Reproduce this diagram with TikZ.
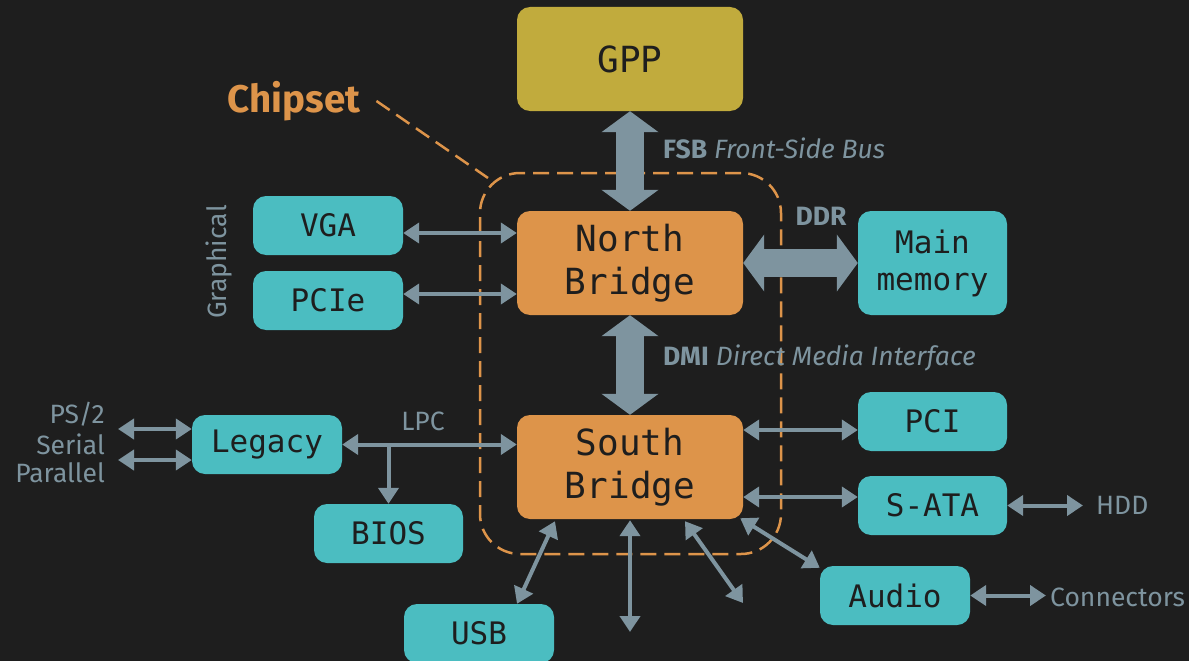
\documentclass[tikz,border=0pt]{standalone}
\usepackage{fontspec}
\setmainfont{Fira Sans}
\newfontfamily\monof{DejaVu Sans Mono}
\usetikzlibrary{arrows.meta,calc}
\definecolor{bg}{HTML}{1E1E1E}
\definecolor{teal}{HTML}{4BBDC1}
\definecolor{orng}{HTML}{DD944A}
\definecolor{olive}{HTML}{C1AB3D}
\definecolor{gry}{HTML}{7E949F}
\definecolor{dk}{HTML}{1E1E1E}
\tikzset{
  box/.style={rounded corners=13pt, inner sep=0pt, align=center, text=dk, font=\monof\fontsize{31}{37}\selectfont},
  smallbox/.style={box, fill=teal, minimum width=150pt, minimum height=59pt},
  bigbox/.style={box, minimum width=226pt, minimum height=104pt, font=\monof\fontsize{36}{43}\selectfont},
  thin/.style={draw=gry, line width=4pt, {Triangle[length=16pt,width=20pt]}-{Triangle[length=16pt,width=20pt]}},
  thinone/.style={draw=gry, line width=4pt, -{Triangle[length=16pt,width=20pt]}},
  fat/.style={draw=gry, line width=28pt, {Triangle[length=21pt,width=56pt]}-{Triangle[length=21pt,width=56pt]}},
  lbl/.style={text=gry, font=\fontsize{26.5}{30}\selectfont, inner sep=0pt},
  chip/.style={draw=orng, line width=2.5pt, dash pattern=on 16pt off 8pt},
}
\begin{document}
\begin{tikzpicture}[x=1pt,y=-1pt]
\fill[bg] (0,0) rectangle (1189,661);
\useasboundingbox (0,0) rectangle (1189,661);

% chipset area
\node[chip, rounded corners=40pt, minimum width=301pt, minimum height=381pt, inner sep=0pt] (cs) at (630.5,363.5) {};
\node[text=orng, font=\bfseries\fontsize{38.5}{44}\selectfont, inner sep=0pt] (chiplbl) at (294,101) {Chipset};
\coordinate (csend) at (488,178);
\draw[chip] ([xshift=16pt]chiplbl.east) -- (csend);

% nodes
\node[bigbox, fill=olive] (gpp) at (630,59) {GPP};
\node[bigbox, fill=orng] (nb) at (630,263) {North\\Bridge};
\node[bigbox, fill=orng] (sb) at (630,467) {South\\Bridge};
\node[smallbox] (vga) at (328,225.5) {VGA};
\node[smallbox] (pcie) at (328,300.5) {PCIe};
\node[box, fill=teal, minimum width=149pt, minimum height=104pt] (mem) at (932.5,263) {Main\\memory};
\node[smallbox, minimum width=149pt] (pci) at (932.5,421.5) {PCI};
\node[smallbox, minimum width=149pt] (sata) at (932.5,505.5) {S-ATA};
\node[smallbox] (legacy) at (267,444.5) {Legacy};
\node[smallbox, minimum width=149pt] (bios) at (388.5,533.5) {BIOS};
\node[smallbox] (usb) at (479,633.5) {USB};
\node[smallbox] (audio) at (895,595.5) {Audio};

% fat buses
\draw[fat] (gpp.south) -- (nb.north);
\draw[fat] (nb.south) -- (sb.north);
\draw[fat] (nb.east) -- (mem.west);
\node[lbl, anchor=west] (fsb) at (663,148) {\textbf{FSB} \textit{Front-Side Bus}};
\node[lbl, anchor=west] (dmi) at (663,358) {\textbf{DMI} \textit{Direct Media Interface}};
\node[lbl] (ddr) at (821,216) {\textbf{DDR}};

% graphical
\draw[thin] ([yshift=30pt]nb.west -| vga.east) -- ([yshift=30pt]nb.west);
\draw[thin] ([yshift=-31pt]nb.west -| pcie.east) -- ([yshift=-31pt]nb.west);
\node[lbl, rotate=90] (graph) at (219,262) {Graphical};

% legacy / LPC
\draw[thin] (legacy.east) -- (legacy.east -| sb.west);
\coordinate (lpcb) at (bios.north |- legacy.east);
\draw[thinone] (lpcb) -- (bios.north);
\node[lbl] (lpc) at (423,421) {LPC};
\coordinate (ps2a) at (118,429);
\coordinate (ps2b) at (118,460);
\draw[thin] (ps2a) -- (ps2a -| legacy.west);
\draw[thin] (ps2b) -- (ps2b -| legacy.west);
\node[lbl, anchor=east] (ps2) at (105,414) {PS/2};
\node[lbl, anchor=east] (ser) at (105,444) {Serial};
\node[lbl, anchor=east] (par) at (105,473) {Parallel};

% south bridge peripherals
\draw[thin] ([yshift=-8.5pt]pci.west -| sb.east) -- ([yshift=-8.5pt]pci.west);
\draw[thin] ([yshift=8.5pt]sata.west -| sb.east) -- ([yshift=8.5pt]sata.west);
\coordinate (hdd) at (1083,505.5);
\draw[thin] (sata.east) -- (hdd);
\node[lbl, anchor=west] (hddl) at (1096,505) {HDD};
\draw[thin] ([xshift=-3pt,yshift=1pt]sb.south east) -- ([yshift=-2pt]audio.north west);
\coordinate (conn) at (1046,595.5);
\draw[thin] (audio.east) -- (conn);
\node[lbl, anchor=west] (connl) at (1050,597) {Connectors};
\draw[thin] ([xshift=-75pt,yshift=-2pt]sb.south) -- ([xshift=38pt]usb.north);
\coordinate (down) at (630,632);
\draw[thin] ([yshift=-1pt]sb.south) -- (down);
\coordinate (diag) at (743,603);
\draw[thin] ([xshift=55pt,yshift=-2pt]sb.south) -- (diag);
\end{tikzpicture}
\end{document}
